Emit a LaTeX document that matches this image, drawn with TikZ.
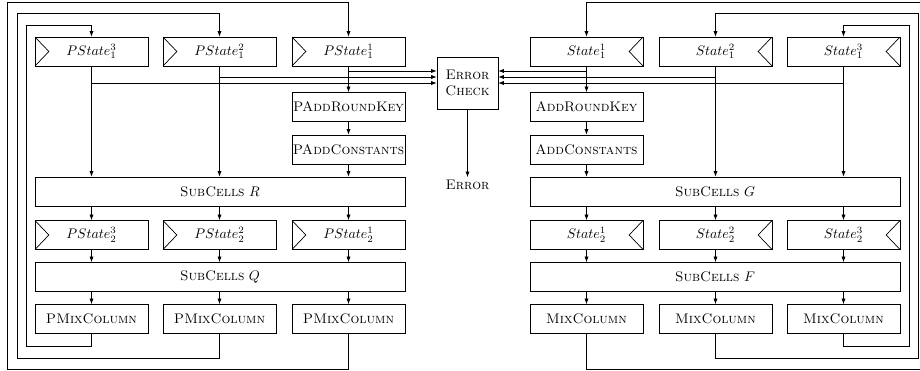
\documentclass[tikz,border=0pt]{standalone}
\usetikzlibrary{arrows.meta}
\tikzset{
  lw/.style={line width=0.5pt},
  box/.style={draw, lw, minimum width=81.4pt, minimum height=20.9pt, inner sep=0pt},
  widebox/.style={draw, lw, minimum width=266.4pt, minimum height=20.9pt, inner sep=0pt},
  clkL/.style={box, path picture={\draw[lw] (path picture bounding box.north west) -- ([xshift=10pt]path picture bounding box.west) -- (path picture bounding box.south west);}},
  clkR/.style={box, path picture={\draw[lw] (path picture bounding box.north east) -- ([xshift=-10pt]path picture bounding box.east) -- (path picture bounding box.south east);}},
  arr/.style={lw, -{Latex[length=4pt,width=3pt]}},
  wire/.style={lw}
}
\begin{document}
\begin{tikzpicture}[x=0.72pt,y=-0.72pt]
\useasboundingbox (0,0) rectangle (920,371);
% left column states row 1
\node[clkL] (p13) at (91.5,51.5) {$PState_1^3$};
\node[clkL] (p12) at (219.5,51.5) {$PState_1^2$};
\node[clkL] (p11) at (348.5,51.5) {$PState_1^1$};
\node[box] (park) at (348.5,107) {\textsc{PAddRoundKey}};
\node[box] (pac) at (348.5,149.5) {\textsc{PAddConstants}};
\node[widebox] (scR) at (220,191.5) {\textsc{SubCells} $R$};
\node[clkL] (p23) at (91.5,235) {$PState_2^3$};
\node[clkL] (p22) at (219.5,235) {$PState_2^2$};
\node[clkL] (p21) at (348.5,235) {$PState_2^1$};
\node[widebox] (scQ) at (220,277) {\textsc{SubCells} $Q$};
\node[box] (pm3) at (91.5,319) {\textsc{PMixColumn}};
\node[box] (pm2) at (219.5,319) {\textsc{PMixColumn}};
\node[box] (pm1) at (348.5,319) {\textsc{PMixColumn}};
% right side
\node[clkR] (s11) at (586.5,51.5) {$State_1^1$};
\node[clkR] (s12) at (715.5,51.5) {$State_1^2$};
\node[clkR] (s13) at (843.5,51.5) {$State_1^3$};
\node[box] (ark) at (586.5,107) {\textsc{AddRoundKey}};
\node[box] (ac) at (586.5,149.5) {\textsc{AddConstants}};
\node[widebox] (scG) at (715,191.5) {\textsc{SubCells} $G$};
\node[clkR] (s21) at (586.5,235) {$State_2^1$};
\node[clkR] (s22) at (715.5,235) {$State_2^2$};
\node[clkR] (s23) at (843.5,235) {$State_2^3$};
\node[widebox] (scF) at (715,277) {\textsc{SubCells} $F$};
\node[box] (m1) at (586.5,319) {\textsc{MixColumn}};
\node[box] (m2) at (715.5,319) {\textsc{MixColumn}};
\node[box] (m3) at (843.5,319) {\textsc{MixColumn}};
% error check
\node[draw, lw, minimum width=43.9pt, minimum height=37.4pt, inner sep=0pt, align=center] (ec) at (467.5,83) {\textsc{Error}\\\textsc{Check}};
\node[inner sep=2pt] (err) at (467.5,185) {\textsc{Error}};
\draw[arr] (ec.south) -- (err.north);
% left flows
\draw[arr] (p11.south) -- (park.north);
\draw[arr] (park.south) -- (pac.north);
\draw[arr] (pac.south) -- (pac.south |- scR.north);
\draw[arr] (p12.south) -- (p12.south |- scR.north);
\draw[arr] (p13.south) -- (p13.south |- scR.north);
\draw[arr] (p11.south |- 0,71) -- (ec.west |- 0,71);
\draw[arr] (p12.south |- 0,77) -- (ec.west |- 0,77);
\draw[arr] (p13.south |- 0,83) -- (ec.west |- 0,83);
\foreach \n in {p21,p22,p23}{
  \draw[arr] (\n.north |- scR.south) -- (\n.north);
  \draw[arr] (\n.south) -- (\n.south |- scQ.north);
}
\foreach \n in {pm1,pm2,pm3}{
  \draw[arr] (\n.north |- scQ.south) -- (\n.north);
}
\draw[arr] (pm1.south) |- (7,369) |- (p11.north |- 0,2) -- (p11.north);
\draw[arr] (pm2.south) |- (17,358) |- (p12.north |- 0,13) -- (p12.north);
\draw[arr] (pm3.south) |- (26,346) |- (p13.north |- 0,25) -- (p13.north);
% right flows
\draw[arr] (s11.south) -- (ark.north);
\draw[arr] (ark.south) -- (ac.north);
\draw[arr] (ac.south) -- (ac.south |- scG.north);
\draw[arr] (s12.south) -- (s12.south |- scG.north);
\draw[arr] (s13.south) -- (s13.south |- scG.north);
\draw[arr] (s11.south |- 0,71) -- (ec.east |- 0,71);
\draw[arr] (s12.south |- 0,77) -- (ec.east |- 0,77);
\draw[arr] (s13.south |- 0,83) -- (ec.east |- 0,83);
\foreach \n in {s21,s22,s23}{
  \draw[arr] (\n.north |- scG.south) -- (\n.north);
  \draw[arr] (\n.south) -- (\n.south |- scF.north);
}
\foreach \n in {m1,m2,m3}{
  \draw[arr] (\n.north |- scF.south) -- (\n.north);
}
\draw[arr] (m1.south) |- (928,369) |- (s11.north |- 0,2) -- (s11.north);
\draw[arr] (m2.south) |- (918,358) |- (s12.north |- 0,13) -- (s12.north);
\draw[arr] (m3.south) |- (909,346) |- (s13.north |- 0,25) -- (s13.north);
\end{tikzpicture}
\end{document}
